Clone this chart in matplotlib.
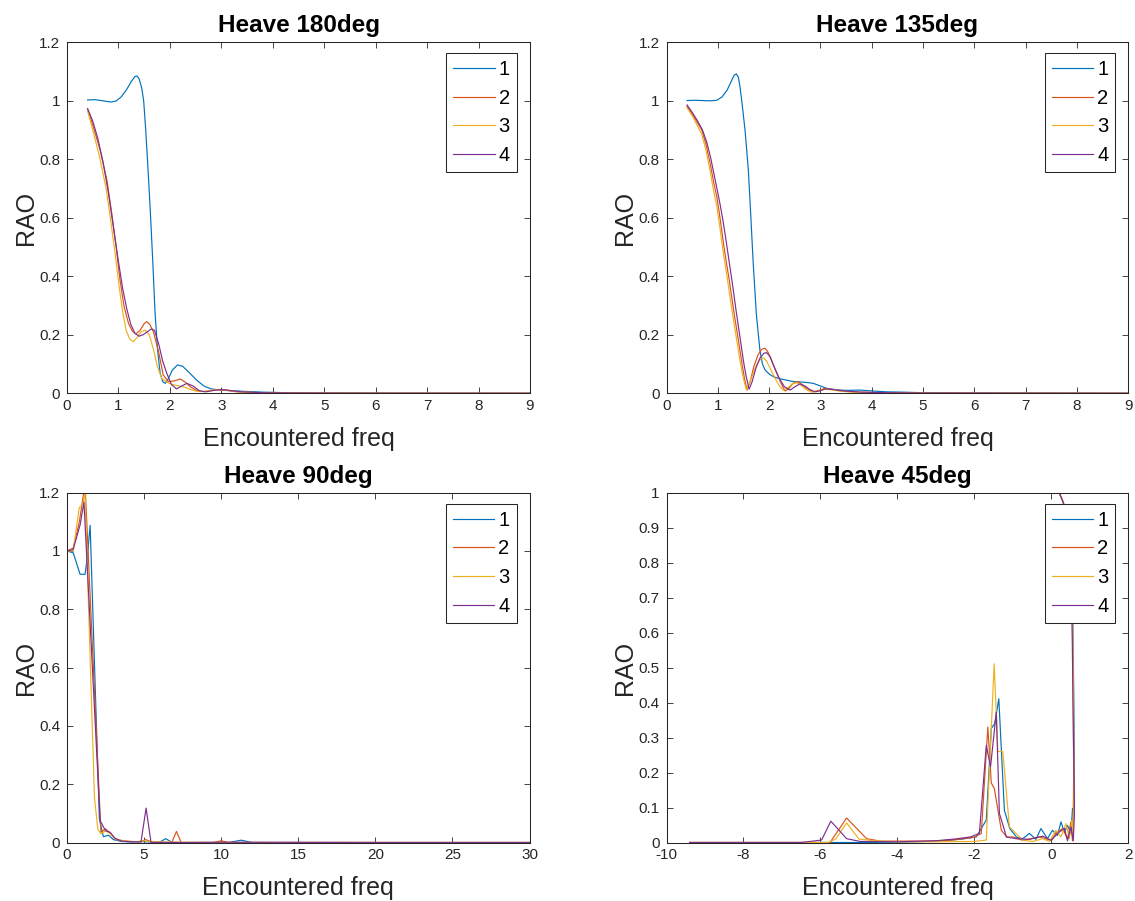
import matplotlib
matplotlib.use("Agg")
import matplotlib.pyplot as plt
from matplotlib.ticker import FuncFormatter

plt.rcParams['font.family'] = ['Liberation Sans', 'DejaVu Sans']

COLORS = ['#0072BD', '#D95319', '#EDB120', '#7E2F8E']
LABELS = ['1', '2', '3', '4']
AXIS_COLOR = '#262626'

# ---------------- Heave 180deg ----------------
h180_x1 = [0.40, 0.55, 0.70, 0.85, 0.95, 1.05, 1.15, 1.25, 1.32, 1.36, 1.40, 1.45, 1.49, 1.53, 1.57,
           1.62, 1.67, 1.71, 1.76, 1.81, 1.86, 1.91, 1.97, 2.05, 2.15, 2.25, 2.38, 2.52, 2.66, 2.80,
           2.95, 3.10, 3.40, 3.80, 4.30, 5.00, 6.00, 7.50, 9.00]
h180_y1 = [1.002, 1.003, 0.999, 0.995, 0.998, 1.012, 1.035, 1.065, 1.082, 1.084, 1.075, 1.045, 1.00,
           0.90, 0.78, 0.62, 0.44, 0.28, 0.15, 0.07, 0.04, 0.034, 0.05, 0.08, 0.097, 0.092, 0.07, 0.045,
           0.025, 0.015, 0.012, 0.010, 0.007, 0.004, 0.002, 0.001, 0.0005, 0.0002, 0.0001]
h180_x2 = [0.40, 0.51, 0.645, 0.775, 0.87, 0.955, 1.03, 1.11, 1.195, 1.27, 1.34, 1.42, 1.50, 1.55,
           1.61, 1.68, 1.78, 1.87, 1.97, 2.08, 2.20, 2.30, 2.40, 2.52, 2.65, 2.80, 2.95, 3.10, 3.30,
           3.70, 4.50, 6.00, 9.00]
h180_y2 = [0.972, 0.911, 0.83, 0.729, 0.615, 0.50, 0.387, 0.296, 0.239, 0.212, 0.203, 0.215, 0.238,
           0.245, 0.235, 0.21, 0.142, 0.063, 0.04, 0.042, 0.049, 0.038, 0.022, 0.01, 0.006, 0.009,
           0.012, 0.01, 0.005, 0.002, 0.001, 0.0004, 0.0001]
h180_x3 = [0.40, 0.50, 0.63, 0.76, 0.85, 0.94, 1.01, 1.08, 1.15, 1.22, 1.29, 1.36, 1.44, 1.52, 1.60,
           1.68, 1.76, 1.84, 1.94, 2.05, 2.18, 2.30, 2.42, 2.52, 2.65, 2.80, 2.95, 3.10, 3.30, 3.70,
           4.50, 6.00, 9.00]
h180_y3 = [0.965, 0.90, 0.81, 0.70, 0.59, 0.47, 0.37, 0.28, 0.215, 0.185, 0.176, 0.19, 0.21, 0.216,
           0.20, 0.15, 0.09, 0.051, 0.038, 0.03, 0.025, 0.02, 0.012, 0.007, 0.006, 0.01, 0.013, 0.011,
           0.006, 0.002, 0.001, 0.0004, 0.0001]
h180_x4 = [0.40, 0.50, 0.60, 0.70, 0.80, 0.90, 1.00, 1.08, 1.16, 1.24, 1.32, 1.40, 1.48, 1.56, 1.64,
           1.70, 1.78, 1.86, 1.94, 2.03, 2.13, 2.22, 2.33, 2.45, 2.58, 2.70, 2.85, 3.00, 3.15, 3.40,
           3.80, 4.50, 6.00, 9.00]
h180_y4 = [0.972, 0.93, 0.87, 0.79, 0.69, 0.57, 0.45, 0.36, 0.29, 0.235, 0.205, 0.195, 0.20, 0.21,
           0.22, 0.215, 0.17, 0.11, 0.068, 0.03, 0.015, 0.024, 0.034, 0.025, 0.008, 0.005, 0.01,
           0.013, 0.01, 0.005, 0.002, 0.001, 0.0004, 0.0001]

# ---------------- Heave 135deg ----------------
h135_x1 = [0.40, 0.55, 0.70, 0.85, 0.98, 1.08, 1.18, 1.26, 1.32, 1.36, 1.40, 1.43, 1.466, 1.53, 1.595,
           1.64, 1.69, 1.75, 1.82, 1.87, 1.92, 2.00, 2.08, 2.20, 2.34, 2.47, 2.60, 2.73, 2.86, 3.00,
           3.12, 3.30, 3.50, 3.77, 4.00, 4.30, 4.60, 5.00, 6.00, 7.50, 9.00]
h135_y1 = [1.0, 1.001, 1.0, 0.999, 1.001, 1.012, 1.035, 1.065, 1.087, 1.091, 1.08, 1.05, 1.0, 0.9,
           0.763, 0.615, 0.444, 0.273, 0.148, 0.10, 0.08, 0.066, 0.057, 0.05, 0.045, 0.04, 0.039,
           0.037, 0.034, 0.025, 0.017, 0.012, 0.01, 0.011, 0.008, 0.005, 0.004, 0.002, 0.001,
           0.0005, 0.0002]
h135_x2 = [0.40, 0.50, 0.60, 0.686, 0.77, 0.85, 0.92, 0.98, 1.03, 1.075, 1.12, 1.17, 1.22, 1.27, 1.32,
           1.37, 1.42, 1.47, 1.52, 1.57, 1.63, 1.70, 1.78, 1.85, 1.92, 1.98, 2.05, 2.15, 2.23, 2.31,
           2.38, 2.46, 2.54, 2.62, 2.72, 2.86, 2.97, 3.09, 3.20, 3.40, 3.70, 4.20, 5.00, 9.00]
h135_y2 = [0.98, 0.955, 0.925, 0.90, 0.85, 0.786, 0.72, 0.672, 0.615, 0.558, 0.50, 0.444, 0.39, 0.33,
           0.27, 0.216, 0.16, 0.1025, 0.05, 0.011, 0.04, 0.09, 0.13, 0.15, 0.154, 0.14, 0.11, 0.068,
           0.035, 0.008, 0.015, 0.033, 0.04, 0.033, 0.018, 0.005, 0.01, 0.017, 0.014, 0.008, 0.004,
           0.002, 0.001, 0.0001]
h135_x3 = [0.40, 0.50, 0.60, 0.686, 0.77, 0.85, 0.92, 0.98, 1.03, 1.075, 1.12, 1.17, 1.22, 1.27, 1.32,
           1.37, 1.42, 1.47, 1.52, 1.56, 1.62, 1.70, 1.78, 1.85, 1.89, 1.95, 2.02, 2.12, 2.20, 2.28,
           2.36, 2.45, 2.53, 2.62, 2.72, 2.82, 2.95, 3.08, 3.20, 3.40, 3.70, 4.20, 5.00, 9.00]
h135_y3 = [0.975, 0.948, 0.915, 0.885, 0.83, 0.76, 0.69, 0.64, 0.58, 0.52, 0.465, 0.41, 0.35, 0.29,
           0.235, 0.18, 0.125, 0.075, 0.035, 0.012, 0.035, 0.075, 0.105, 0.12, 0.121, 0.11, 0.085,
           0.05, 0.025, 0.01, 0.018, 0.032, 0.036, 0.028, 0.013, 0.004, 0.008, 0.014, 0.012, 0.007,
           0.003, 0.0015, 0.0008, 0.0001]
h135_x4 = [0.40, 0.50, 0.60, 0.70, 0.78, 0.86, 0.93, 1.00, 1.05, 1.10, 1.15, 1.20, 1.25, 1.30, 1.35,
           1.40, 1.45, 1.50, 1.55, 1.61, 1.67, 1.74, 1.82, 1.90, 1.95, 2.02, 2.10, 2.20, 2.30, 2.41,
           2.50, 2.60, 2.70, 2.80, 2.90, 3.00, 3.10, 3.25, 3.45, 3.80, 4.30, 5.00, 9.00]
h135_y4 = [0.985, 0.96, 0.932, 0.90, 0.86, 0.805, 0.745, 0.685, 0.64, 0.59, 0.535, 0.475, 0.415, 0.355,
           0.29, 0.23, 0.17, 0.11, 0.06, 0.014, 0.04, 0.085, 0.12, 0.137, 0.139, 0.125, 0.09,
           0.05, 0.022, 0.011, 0.022, 0.032, 0.025, 0.012, 0.005, 0.009, 0.015, 0.013, 0.008, 0.004,
           0.002, 0.001, 0.0001]

# ---------------- Heave 90deg ----------------
h90_x1 = [0, 0.4, 0.85, 1.17, 1.32, 1.5, 2.1, 2.36, 2.7, 3.0, 3.5, 4.0, 4.6, 5.0, 5.5, 6.0, 6.4, 6.8,
          7.5, 9.0, 10.5, 11.3, 12.0, 14.0, 20.0, 30.0]
h90_y1 = [1.0, 0.994, 0.92, 0.92, 0.98, 1.088, 0.08, 0.02, 0.025, 0.01, 0.004, 0.002, 0.002, 0.003,
          0.001, 0.001, 0.013, 0.001, 0.0, 0.0, 0.0, 0.008, 0.0, 0.0, 0.0, 0.0]
h90_x2 = [0, 0.4, 0.8, 1.17, 2.2, 2.5, 2.75, 3.1, 3.6, 4.2, 4.8, 5.1, 5.5, 6.8, 7.1, 7.4, 8.0, 9.5,
          10.0, 10.5, 12.0, 20.0, 30.0]
h90_y2 = [1.0, 1.01, 1.1, 1.23, 0.035, 0.047, 0.035, 0.013, 0.006, 0.003, 0.003, 0.01, 0.002, 0.0,
          0.038, 0.0, 0.0, 0.0, 0.006, 0.0, 0.0, 0.0, 0.0]
h90_x3 = [0, 0.4, 0.8, 1.0, 1.17, 1.78, 2.0, 2.2, 2.5, 2.8, 3.2, 3.8, 4.5, 5.0, 5.5, 7.0, 10.0, 20.0,
          30.0]
h90_y3 = [1.0, 1.0, 1.15, 1.157, 1.197, 0.155, 0.045, 0.03, 0.04, 0.03, 0.01, 0.005, 0.003, 0.006,
          0.002, 0.001, 0.0, 0.0, 0.0]
h90_x4 = [0, 0.4, 0.85, 1.1, 2.15, 2.5, 2.8, 3.1, 3.5, 4.0, 4.8, 5.13, 5.45, 6.0, 8.0, 10.0, 20.0,
          30.0]
h90_y4 = [1.0, 1.005, 1.09, 1.168, 0.075, 0.04, 0.035, 0.015, 0.005, 0.003, 0.002, 0.118, 0.0, 0.0,
          0.0, 0.001, 0.0, 0.0]

# ---------------- Heave 45deg ----------------
h45_x1 = [0.05, 0.15, 0.21, 0.30, 0.40, 0.48, 0.55, 0.58, 0.60, 0.60, 0.55, 0.51, 0.42, 0.34, 0.25,
          0.16, 0.03, -0.10, -0.27, -0.40, -0.57, -0.74, -0.90, -1.08, -1.22, -1.365, -1.47, -1.56,
          -1.69, -1.95, -2.3, -2.7, -3.0, -3.5, -4.0, -5.0, -6.0, -7.0, -8.0, -9.4]
h45_y1 = [1.01, 1.005, 0.999, 0.975, 0.94, 0.88, 0.70, 0.45, 0.25, 0.10, 0.097, 0.026, 0.049, 0.03,
          0.059, 0.02, 0.035, 0.011, 0.04, 0.009, 0.026, 0.011, 0.015, 0.04, 0.092, 0.411, 0.34, 0.326,
          0.064, 0.016, 0.01, 0.006, 0.004, 0.002, 0.001, 0.0, 0.0, 0.0, 0.0, 0.0]
h45_x2 = [0.05, 0.15, 0.21, 0.30, 0.40, 0.48, 0.54, 0.57, 0.58, 0.57, 0.55, 0.51, 0.42, 0.29, 0.12,
          0.0, -0.31, -0.74, -1.0, -1.15, -1.30, -1.48, -1.56, -1.65, -1.82, -2.0, -2.5, -3.0, -4.0,
          -4.45, -4.8, -5.32, -5.75, -7.0, -9.4]
h45_y2 = [1.01, 1.005, 0.999, 0.975, 0.94, 0.87, 0.68, 0.40, 0.20, 0.08, 0.005, 0.059, 0.011, 0.04,
          0.026, 0.006, 0.016, 0.006, 0.016, 0.015, 0.035, 0.154, 0.17, 0.33, 0.026, 0.015, 0.008,
          0.004, 0.004, 0.004, 0.011, 0.070, 0.0, 0.0, 0.0]
h45_x3 = [0.05, 0.15, 0.21, 0.30, 0.40, 0.48, 0.545, 0.575, 0.59, 0.58, 0.57, 0.53, 0.47, 0.38, 0.25,
          0.12, -0.05, -0.22, -0.48, -0.74, -0.92, -1.09, -1.26, -1.39, -1.485, -1.69, -2.0, -3.0,
          -4.0, -4.6, -5.0, -5.32, -5.6, -5.8, -9.4]
h45_y3 = [1.01, 1.005, 0.999, 0.975, 0.94, 0.875, 0.69, 0.42, 0.22, 0.09, 0.011, 0.063, 0.011, 0.054,
          0.016, 0.035, 0.003, 0.011, 0.003, 0.006, 0.026, 0.045, 0.26, 0.26, 0.511, 0.007, 0.003,
          0.002, 0.002, 0.005, 0.01, 0.056, 0.01, 0.0, 0.0]
h45_x4 = [0.05, 0.15, 0.21, 0.30, 0.40, 0.48, 0.535, 0.565, 0.60, 0.57, 0.51, 0.42, 0.34, 0.16, 0.0,
          -0.22, -0.57, -0.92, -1.17, -1.23, -1.35, -1.43, -1.58, -1.69, -1.87, -2.1, -2.5, -3.0,
          -4.0, -4.97, -5.32, -5.73, -5.97, -6.5, -9.4]
h45_y4 = [1.01, 1.005, 0.999, 0.975, 0.94, 0.865, 0.67, 0.38, 0.08, 0.005, 0.045, 0.005, 0.04, 0.026,
          0.006, 0.018, 0.009, 0.011, 0.016, 0.04, 0.083, 0.373, 0.216, 0.278, 0.026, 0.016, 0.01,
          0.005, 0.002, 0.003, 0.011, 0.061, 0.007, 0.0, 0.0]

panels = [
    dict(title='Heave 180deg', xs=[h180_x1, h180_x2, h180_x3, h180_x4],
         ys=[h180_y1, h180_y2, h180_y3, h180_y4], xlim=(0, 9), xticks=range(0, 10),
         ylim=(0, 1.2), yticks=[0, 0.2, 0.4, 0.6, 0.8, 1.0, 1.2]),
    dict(title='Heave 135deg', xs=[h135_x1, h135_x2, h135_x3, h135_x4],
         ys=[h135_y1, h135_y2, h135_y3, h135_y4], xlim=(0, 9), xticks=range(0, 10),
         ylim=(0, 1.2), yticks=[0, 0.2, 0.4, 0.6, 0.8, 1.0, 1.2]),
    dict(title='Heave 90deg', xs=[h90_x1, h90_x2, h90_x3, h90_x4],
         ys=[h90_y1, h90_y2, h90_y3, h90_y4], xlim=(0, 30), xticks=range(0, 31, 5),
         ylim=(0, 1.2), yticks=[0, 0.2, 0.4, 0.6, 0.8, 1.0, 1.2]),
    dict(title='Heave 45deg', xs=[h45_x1, h45_x2, h45_x3, h45_x4],
         ys=[h45_y1, h45_y2, h45_y3, h45_y4], xlim=(-10, 2), xticks=range(-10, 3, 2),
         ylim=(0, 1.0), yticks=[i / 10 for i in range(11)]),
]

W, H = 1135, 901
fig = plt.figure(figsize=(W / 100, H / 100), dpi=100)

# axes boxes in pixels: left, top, right, bottom
boxes = [(67, 42, 530, 393.3), (666.5, 42, 1128.3, 393.3),
         (67, 492.7, 529.5, 842.5), (666.5, 492.7, 1128.3, 842.5)]

fmt = FuncFormatter(lambda v, p: ('%g' % round(v, 3)))

for pan, (l, t, r, b) in zip(panels, boxes):
    ax = fig.add_axes([l / W, 1 - b / H, (r - l) / W, (b - t) / H])
    for x, y, c, lab in zip(pan['xs'], pan['ys'], COLORS, LABELS):
        ax.plot(x, y, color=c, lw=0.85, label=lab)
    ax.set_xlim(*pan['xlim'])
    ax.set_ylim(*pan['ylim'])
    ax.set_xticks(list(pan['xticks']))
    ax.set_yticks(pan['yticks'])
    ax.xaxis.set_major_formatter(fmt)
    ax.yaxis.set_major_formatter(fmt)
    ax.tick_params(direction='in', length=4.6, width=0.6, colors=AXIS_COLOR,
                   labelsize=11, top=True, right=True, pad=4)
    ax.tick_params(axis='y', pad=5)
    for s in ax.spines.values():
        s.set_color(AXIS_COLOR)
        s.set_linewidth(0.75)
    ax.set_title(pan['title'], fontsize=17.5, fontweight='bold', pad=7)
    ax.set_xlabel('Encountered freq', fontsize=18, color=AXIS_COLOR, labelpad=10)
    ax.set_ylabel('RAO', fontsize=18, color=AXIS_COLOR, labelpad=1)
    aw, ah = r - l, b - t
    leg = ax.legend(loc='upper right', bbox_to_anchor=(1 - 13 / aw, 1 - 11 / ah),
                    borderaxespad=0, fontsize=14.5, frameon=True, fancybox=False,
                    framealpha=1, edgecolor=AXIS_COLOR, handlelength=2.05,
                    handletextpad=0.2, borderpad=0.35, labelspacing=0.48)
    leg.get_frame().set_linewidth(0.75)

fig.savefig('out.png', dpi=100)
